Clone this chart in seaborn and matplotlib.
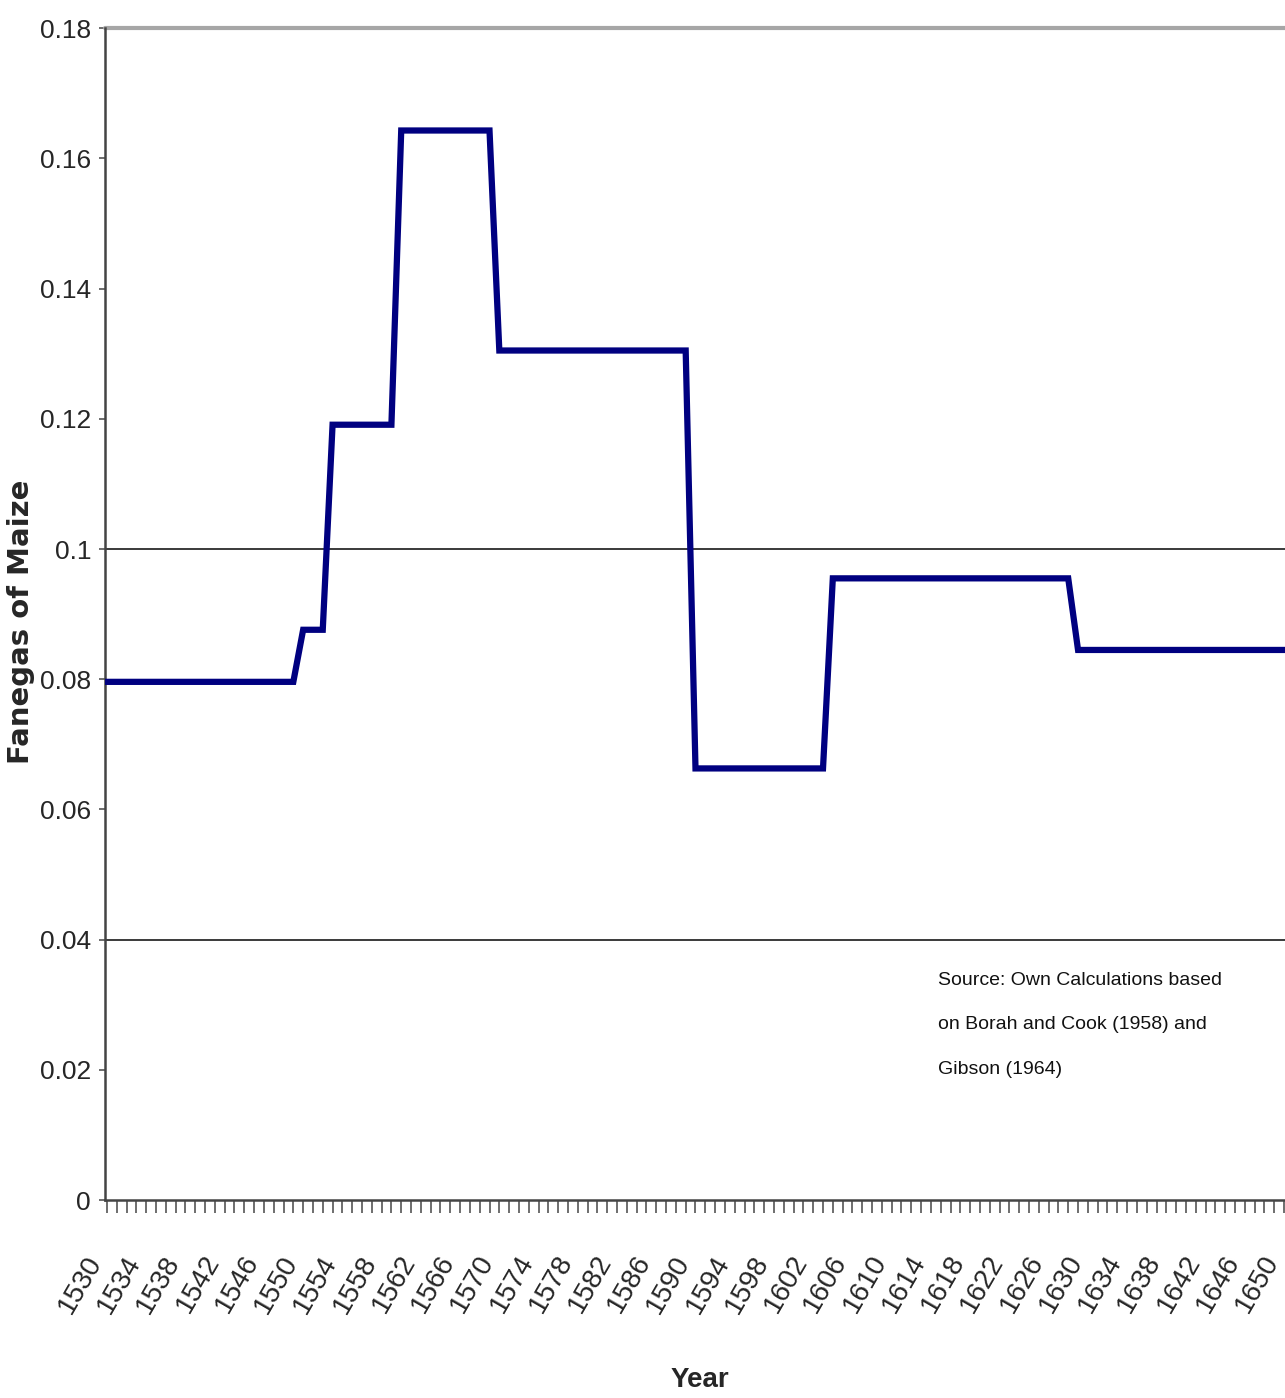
import pandas as pd
import seaborn as sns
import matplotlib.pyplot as plt

# Fanegas of maize per year, 1530-1650
years = list(range(1530, 1651))
fanegas = [
    # 1530-1549
    0.0796, 0.0796, 0.0796, 0.0796, 0.0796, 0.0796, 0.0796, 0.0796, 0.0796, 0.0796,
    0.0796, 0.0796, 0.0796, 0.0796, 0.0796, 0.0796, 0.0796, 0.0796, 0.0796, 0.0796,
    # 1550-1552
    0.0876, 0.0876, 0.0876,
    # 1553-1559
    0.1191, 0.1191, 0.1191, 0.1191, 0.1191, 0.1191, 0.1191,
    # 1560-1569
    0.1643, 0.1643, 0.1643, 0.1643, 0.1643, 0.1643, 0.1643, 0.1643, 0.1643, 0.1643,
    # 1570-1589
    0.1305, 0.1305, 0.1305, 0.1305, 0.1305, 0.1305, 0.1305, 0.1305, 0.1305, 0.1305,
    0.1305, 0.1305, 0.1305, 0.1305, 0.1305, 0.1305, 0.1305, 0.1305, 0.1305, 0.1305,
    # 1590-1603
    0.0663, 0.0663, 0.0663, 0.0663, 0.0663, 0.0663, 0.0663, 0.0663, 0.0663, 0.0663,
    0.0663, 0.0663, 0.0663, 0.0663,
    # 1604-1628
    0.0955, 0.0955, 0.0955, 0.0955, 0.0955, 0.0955, 0.0955, 0.0955, 0.0955, 0.0955,
    0.0955, 0.0955, 0.0955, 0.0955, 0.0955, 0.0955, 0.0955, 0.0955, 0.0955, 0.0955,
    0.0955, 0.0955, 0.0955, 0.0955, 0.0955,
    # 1629-1650
    0.0845, 0.0845, 0.0845, 0.0845, 0.0845, 0.0845, 0.0845, 0.0845, 0.0845, 0.0845,
    0.0845, 0.0845, 0.0845, 0.0845, 0.0845, 0.0845, 0.0845, 0.0845, 0.0845, 0.0845,
    0.0845, 0.0845,
]

y_ticks = [0, 0.02, 0.04, 0.06, 0.08, 0.10, 0.12, 0.14, 0.16, 0.18]
y_tick_labels = ['0', '0.02', '0.04', '0.06', '0.08', '0.1', '0.12', '0.14', '0.16', '0.18']
x_label_years = list(range(1530, 1651, 4))
grid_values = [0.04, 0.10]
source_note = 'Source: Own Calculations based\non Borah and Cook (1958) and\nGibson (1964)'

df = pd.DataFrame({'year': years, 'fanegas': fanegas})

sns.set_theme(style='white')
plt.rcParams['font.family'] = ['Liberation Sans', 'DejaVu Sans']

fig = plt.figure(figsize=(12.85, 13.98), dpi=100)
ax = fig.add_axes([105 / 1285, 1 - 1200 / 1398, 1180 / 1285, 1171.7 / 1398])

# horizontal reference lines like the original
for g in grid_values:
    ax.axhline(g, color='#3a3a3a', lw=1.4, zorder=1)
ax.axhline(0.18, color='#a6a6a6', lw=3, zorder=1, clip_on=False)

sns.lineplot(data=df, x='year', y='fanegas', color='#000080', linewidth=4.5,
             ax=ax, zorder=3)
for ln in ax.lines[-1:]:
    ln.set_solid_joinstyle('miter')
    ln.set_solid_capstyle('projecting')

ax.set_xlim(1529.8, 1650.1)
ax.set_ylim(0, 0.18)

ax.set_xticks(years)
# anchor at the lower right corner so the last label stays inside the figure
ax.set_xticklabels([str(y) if y in x_label_years else '' for y in years],
                   rotation=60, ha='right', va='bottom', rotation_mode='anchor',
                   fontsize=20)
ax.set_yticks(y_ticks)
ax.set_yticklabels(y_tick_labels, fontsize=19)

ax.tick_params(axis='x', direction='out', length=9, width=1.2, color='#555555', pad=37,
               bottom=True)
ax.tick_params(axis='y', direction='out', length=4, width=1.2, color='#555555', pad=6,
               left=True)

for side in ['top', 'right']:
    ax.spines[side].set_visible(False)
for side in ['left', 'bottom']:
    ax.spines[side].set_color('#444444')
    ax.spines[side].set_linewidth(1.8)

ax.set_xlabel('Year', fontsize=20, fontweight='bold')
ax.xaxis.set_label_coords((700 - 105) / 1180, -(1367 - 1200) / 1171.7)
ax.set_ylabel('Fanegas of Maize', fontsize=21, fontweight='bold',
              family=['DejaVu Sans'])
ax.yaxis.set_label_coords(-(105 - 35) / 1180, (1200 - 622) / 1171.7)

ax.text((938 - 105) / 1180, (1200 - 972) / 1171.7, source_note, transform=ax.transAxes,
        ha='left', va='top', fontsize=14, linespacing=3.1, color='#111111')

fig.savefig('out.png', dpi=100)
